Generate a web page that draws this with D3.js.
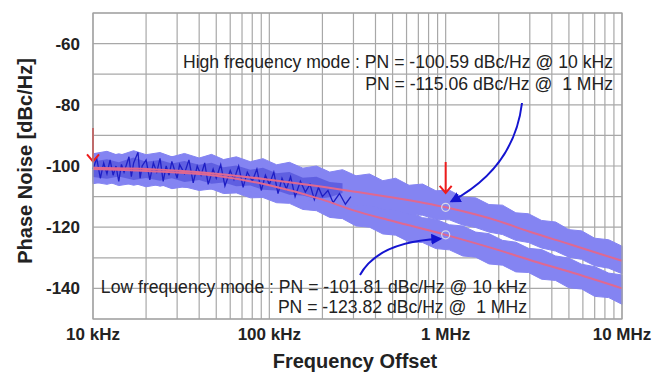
<!DOCTYPE html>
<html>
<head>
<meta charset="utf-8">
<script src="https://cdn.jsdelivr.net/npm/d3@7"></script>
<style>
  body { margin: 0; background: #fff; }
  text { font-family: Arial, "Liberation Sans", sans-serif; }
</style>
</head>
<body>
<script>
// smoothed phase noise curves (Hz, dBc/Hz)
const freqs = [1e4, 2e4, 5e4, 1e5, 2e5, 3e5, 5e5, 1e6, 2e6, 3e6, 5e6, 1e7];
const highMode = [-100.6, -101, -102.5, -104.5, -106.8, -108.3, -110.3, -113.5, -118, -121.5, -125.5, -131];
const lowMode = [-101, -101.6, -103.2, -106.3, -111, -114.5, -118, -122.5, -127.5, -130.7, -134.5, -140];

const bandKHz = [10, 12, 14, 17, 20, 24, 28, 33, 40, 47, 55, 65, 78, 92, 110, 130, 155, 185, 220, 260, 310, 370, 440, 520, 620, 740, 880, 1050, 1250, 1480, 1760, 2100, 2500, 2950, 3500, 4200, 5000, 5900, 7000, 8400, 10000];
const highTop = [-96.0, -95.2, -96.6, -95.0, -96.3, -95.6, -97.0, -95.9, -97.4, -96.2, -97.9, -97.0, -98.6, -97.6, -99.6, -98.8, -100.7, -100.0, -102.0, -101.2, -103.2, -102.6, -104.8, -104.0, -106.3, -105.9, -108.1, -107.9, -110.2, -110.4, -112.6, -112.8, -115.3, -115.6, -117.8, -118.3, -120.8, -121.2, -123.6, -124.1, -126.2];
const highBot = [-105.2, -106.0, -105.0, -106.3, -105.4, -106.6, -105.8, -107.0, -106.4, -107.6, -107.2, -108.6, -108.3, -109.6, -109.4, -110.8, -110.7, -112.0, -111.9, -113.3, -113.1, -112.8, -114.2, -114.4, -115.8, -116.1, -117.4, -117.6, -119.3, -120.1, -121.6, -122.4, -124.3, -125.0, -126.8, -127.8, -129.8, -130.5, -132.6, -133.4, -135.2];
const lowTop = [-96.4, -97.0, -96.0, -97.2, -96.5, -97.6, -96.9, -98.0, -97.6, -98.6, -98.4, -99.6, -99.8, -101.2, -101.5, -103.0, -103.6, -105.4, -106.2, -108.0, -109.0, -111.8, -112.6, -114.4, -115.0, -116.9, -117.4, -119.2, -119.6, -121.6, -122.1, -124.3, -124.9, -126.9, -127.3, -129.4, -130.1, -132.1, -132.9, -135.0, -135.6];
const lowBot = [-105.8, -105.0, -106.4, -105.6, -106.8, -106.0, -107.4, -106.8, -108.0, -107.5, -109.0, -108.8, -110.4, -110.3, -112.0, -112.2, -114.2, -114.6, -116.8, -117.2, -119.6, -120.0, -122.2, -122.6, -124.8, -125.0, -127.0, -127.4, -129.4, -129.8, -132.0, -132.4, -134.6, -134.8, -137.0, -137.4, -139.8, -140.2, -142.6, -143.0, -145.2];

// denser dark blue part at low offsets (kHz)
const darkKHz = [10, 12, 14, 17, 20, 24, 28, 33, 40, 47, 55, 65, 78, 92, 110, 130, 155, 185, 220, 260];
const darkTop = [-98.5, -97.8, -98.8, -97.2, -98.6, -98.0, -99.2, -98.4, -99.6, -98.9, -100.4, -99.8, -101.2, -100.6, -102.4, -102.0, -103.8, -103.5, -105.2, -105.6];
const darkBot = [-103.6, -104.2, -103.4, -104.6, -103.9, -104.8, -104.0, -105.2, -104.6, -105.8, -105.4, -106.6, -106.4, -107.8, -108.0, -109.4, -109.6, -110.8, -110.2, -108.8];

// raw trace (kHz, dBc/Hz)
const rawKHz = [10, 10.5, 11, 11.5, 12, 12.5, 13, 13.5, 14, 14.5, 15, 16, 16.5, 17, 18, 18.5, 19, 20, 21, 22, 23, 24, 25, 26, 27, 28, 30, 31, 33, 35, 37, 39, 41, 43, 45, 48, 50, 53, 56, 60, 63, 67, 71, 75, 80, 85, 90, 95, 100, 106, 112, 118, 125, 132, 140, 150, 160, 170, 180, 190, 200, 215, 230, 250, 270, 290];
const rawDb = [-101, -97.5, -104, -99, -102.5, -98, -103, -100, -105, -99.5, -102, -97, -103.5, -99, -95.5, -104, -100, -98, -104.5, -99, -102, -97.5, -105, -100, -103, -98.5, -104, -99.5, -102.5, -98, -105.5, -100, -103, -99, -106, -101, -104, -99.5, -106.5, -101.5, -104.5, -100, -107, -102, -105, -101, -108, -103, -106, -102, -109, -104, -107.5, -103.5, -110, -105, -108.5, -106, -111, -107, -110, -108, -112, -109, -112.5, -110];

const yTicks = [-140, -120, -100, -80, -60];
const xTickVals = [1e4, 1e5, 1e6, 1e7];
const xTickLabels = ["10 kHz", "100 kHz", "1 MHz", "10 MHz"];

const highText = ["High frequency mode : PN = -100.59 dBc/Hz @ 10 kHz", "PN = -115.06 dBc/Hz @\u00a0 1 MHz"];
const lowText = ["Low frequency mode : PN = -101.81 dBc/Hz @ 10 kHz", "PN = -123.82 dBc/Hz @\u00a0 1 MHz"];

// red markers: [freq, from dB, to dB]
const redArrows = [[1e4, -87.6, -98.5], [1e6, -98.7, -108.8]];

const width = 668, height = 374;
const margin = {top: 13, right: 46, bottom: 55, left: 93};

const svg = d3.select("body").append("svg")
  .attr("width", width)
  .attr("height", height);

const x = d3.scaleLog().domain([1e4, 1e7]).range([margin.left, width - margin.right]);
const y = d3.scaleLinear().domain([-150, -50]).range([height - margin.bottom, margin.top]);

// grid
svg.append("g").selectAll("line")
  .data(x.ticks())
  .join("line")
  .attr("x1", d => x(d)).attr("x2", d => x(d))
  .attr("y1", y(-150)).attr("y2", y(-50))
  .attr("stroke", "#a8a8a8").attr("stroke-width", 1.2);

svg.append("g").selectAll("line")
  .data(d3.range(-150, -49, 10))
  .join("line")
  .attr("x1", x(1e4)).attr("x2", x(1e7))
  .attr("y1", d => y(d)).attr("y2", d => y(d))
  .attr("stroke", "#a8a8a8").attr("stroke-width", 1.2);

// light blue noise bands
const band = keys => d3.area()
  .x((d, i) => x(keys[i] * 1000))
  .y0(d => y(d[0]))
  .y1(d => y(d[1]));

[[lowBot, lowTop], [highBot, highTop]].forEach(([bot, top]) => {
  svg.append("path")
    .datum(bot.map((b, i) => [b, top[i]]))
    .attr("d", band(bandKHz))
    .attr("fill", "#8484f2")
    .attr("stroke", "#8484f2")
    .attr("stroke-width", 1);
});

// darker part
svg.append("path")
  .datum(darkBot.map((b, i) => [b, darkTop[i]]))
  .attr("d", band(darkKHz))
  .attr("fill", "#3434cc")
  .attr("fill-opacity", 0.45);

// raw trace
svg.append("path")
  .datum(rawKHz.map((k, i) => [k * 1000, rawDb[i]]))
  .attr("d", d3.line().x(d => x(d[0])).y(d => y(d[1])))
  .attr("fill", "none")
  .attr("stroke", "#1e1ec4")
  .attr("stroke-width", 1.3);

// smoothed curves
const smooth = d3.line()
  .x((d, i) => x(freqs[i]))
  .y(d => y(d))
  .curve(d3.curveMonotoneX);

[lowMode, highMode].forEach(s => {
  svg.append("path")
    .datum(s)
    .attr("d", smooth)
    .attr("fill", "none")
    .attr("stroke", "#e06890")
    .attr("stroke-width", 2);
});

// circles at 1 MHz
svg.selectAll(".pt")
  .data([highMode[7], lowMode[7]])
  .join("circle")
  .attr("cx", x(1e6))
  .attr("cy", d => y(d))
  .attr("r", 4)
  .attr("fill", "none")
  .attr("stroke", "#d8d8e8")
  .attr("stroke-width", 1.2);

// red arrows
redArrows.forEach(([f, a, b]) => {
  const g = svg.append("g").attr("stroke", "#ee1c1c").attr("stroke-width", 2).attr("fill", "none");
  g.append("line").attr("x1", x(f)).attr("x2", x(f)).attr("y1", y(a)).attr("y2", y(b));
  g.append("path").attr("d", `M${x(f) - 6},${y(b) - 7}L${x(f)},${y(b)}L${x(f) + 6},${y(b) - 7}`);
});

// blue arrows
const defs = svg.append("defs");
defs.append("marker")
  .attr("id", "head")
  .attr("viewBox", "0 0 10 10")
  .attr("refX", 8).attr("refY", 5)
  .attr("markerWidth", 5.5).attr("markerHeight", 5.5)
  .attr("orient", "auto")
  .append("path")
  .attr("d", "M0,0L10,5L0,10z")
  .attr("fill", "#1414d0");

svg.append("path")
  .attr("d", `M522,103Q514,168 ${x(1.08e6)},${y(highMode[7]) - 6}`)
  .attr("fill", "none").attr("stroke", "#1414d0").attr("stroke-width", 2)
  .attr("marker-end", "url(#head)");

svg.append("path")
  .attr("d", `M360,275Q378,242 ${x(0.93e6)},${y(lowMode[7]) + 4}`)
  .attr("fill", "none").attr("stroke", "#1414d0").attr("stroke-width", 2)
  .attr("marker-end", "url(#head)");

// plot border
svg.append("rect")
  .attr("x", x(1e4)).attr("y", y(-50))
  .attr("width", x(1e7) - x(1e4)).attr("height", y(-150) - y(-50))
  .attr("fill", "none").attr("stroke", "#a0a0a0").attr("stroke-width", 1.2);

// annotations
function note(lines, xr, y0, y1) {
  const t = svg.append("g")
    .attr("font-size", 17.6)
    .attr("fill", "#222")
    .attr("text-anchor", "end");
  t.append("text").attr("x", xr).attr("y", y0).text(lines[0]);
  t.append("text").attr("x", xr).attr("y", y1).text(lines[1]);
}
note(highText, 613, 68, 90);
note(lowText, 527, 293, 313);

// axis labels
svg.append("g").selectAll("text")
  .data(yTicks)
  .join("text")
  .attr("x", 80).attr("y", d => y(d))
  .attr("dy", "0.35em")
  .attr("text-anchor", "end")
  .attr("font-size", 17).attr("font-weight", "bold")
  .attr("fill", "#222")
  .text(d => d);

svg.append("g").selectAll("text")
  .data(xTickVals)
  .join("text")
  .attr("x", d => x(d)).attr("y", 340)
  .attr("text-anchor", "middle")
  .attr("font-size", 17).attr("font-weight", "bold")
  .attr("fill", "#222")
  .text((d, i) => xTickLabels[i]);

svg.append("text")
  .attr("x", 355).attr("y", 368)
  .attr("text-anchor", "middle")
  .attr("font-size", 20).attr("font-weight", "bold")
  .attr("fill", "#222")
  .text("Frequency Offset");

svg.append("text")
  .attr("transform", "translate(32,161) rotate(-90)")
  .attr("text-anchor", "middle")
  .attr("font-size", 20).attr("font-weight", "bold")
  .attr("fill", "#222")
  .text("Phase Noise [dBc/Hz]");
</script>
</body>
</html>
